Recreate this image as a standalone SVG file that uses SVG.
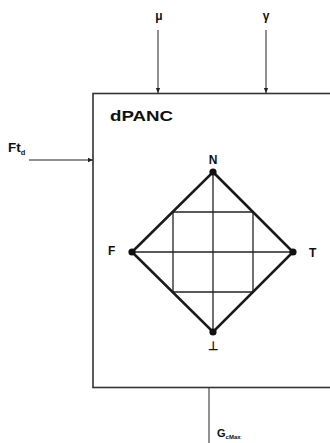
<svg xmlns="http://www.w3.org/2000/svg" width="330" height="443" viewBox="0 0 330 443">
<style>
text{font-family:"Liberation Sans",Arial,sans-serif;font-weight:bold;fill:#111}
.lbl{font-size:12px}
.conn{stroke:#222;stroke-width:1;fill:none}
.grid{stroke:#222;stroke-width:1.3;fill:none}
.dia{stroke:#1a1a1a;stroke-width:2.6;fill:none;stroke-linejoin:miter}
.dot{fill:#111}
</style>
<defs>
<marker id="ah" markerWidth="6" markerHeight="6" refX="5" refY="3" orient="auto" markerUnits="userSpaceOnUse">
<path d="M0,0.8 L5,3 L0,5.2 z" fill="#222"/>
</marker>
</defs>
<g id="dPANC">
<rect x="93" y="93.5" width="250" height="294" fill="#fff" stroke="#333" stroke-width="1.6"/>
<text x="110" y="121" font-size="15.5" textLength="63" lengthAdjust="spacingAndGlyphs">dPANC</text>
</g>
<g id="grid">
<line class="grid" x1="213" y1="172" x2="213" y2="332"/>
<line class="grid" x1="132" y1="252" x2="293" y2="252"/>
<line class="grid" x1="173" y1="212" x2="253" y2="212"/>
<line class="grid" x1="173" y1="292" x2="253" y2="292"/>
<line class="grid" x1="173" y1="212" x2="173" y2="292"/>
<line class="grid" x1="253" y1="212" x2="253" y2="292"/>
<polygon class="dia" points="213,172 293,252 213,332 132,252"/>
</g>
<g id="N">
<circle class="dot" cx="213" cy="172" r="3.6"/>
<text class="lbl" x="213" y="164" text-anchor="middle">N</text>
</g>
<g id="T">
<circle class="dot" cx="293" cy="252" r="3.6"/>
<text class="lbl" x="309" y="257">T</text>
</g>
<g id="F">
<circle class="dot" cx="132" cy="252" r="3.6"/>
<text class="lbl" x="108" y="255">F</text>
</g>
<g id="Bot">
<circle class="dot" cx="213" cy="332" r="3.6"/>
<text class="lbl" x="213" y="350" text-anchor="middle">⊥</text>
</g>
<g id="connectors">
<line class="conn" x1="158" y1="30" x2="158" y2="93" marker-end="url(#ah)"/>
<line class="conn" x1="266" y1="30" x2="266" y2="93" marker-end="url(#ah)"/>
<line class="conn" x1="29" y1="160" x2="93" y2="160" marker-end="url(#ah)"/>
<line class="conn" x1="209" y1="388" x2="209" y2="443"/>
</g>
<g id="inputs">
<text class="lbl" x="159" y="20" text-anchor="middle">μ</text>
<text class="lbl" x="266" y="20" text-anchor="middle">γ</text>
<text x="8" y="152" font-size="13.5">Ft<tspan dy="3" font-size="7.5">d</tspan></text>
<text x="217" y="437" font-size="11">G<tspan dy="2" font-size="6">cMax</tspan></text>
</g>
</svg>
